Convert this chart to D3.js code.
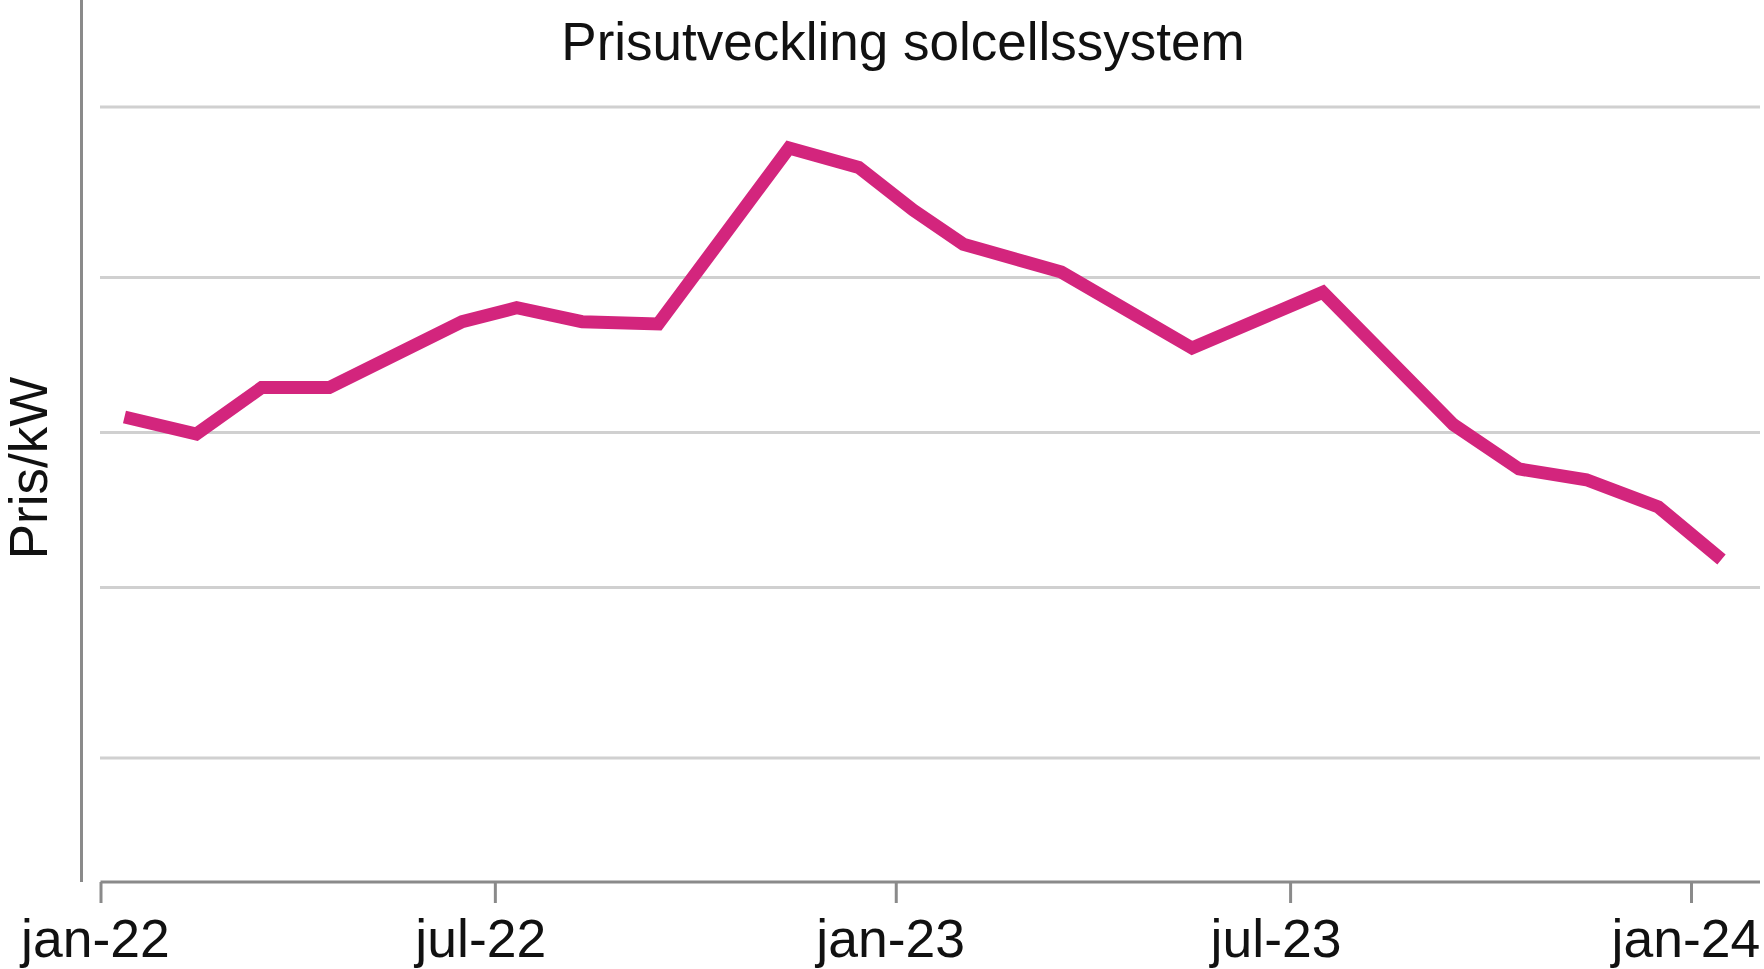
<!DOCTYPE html>
<html>
<head>
<meta charset="utf-8">
<script src="https://cdn.jsdelivr.net/npm/d3@7"></script>
<style>
  html, body { margin: 0; padding: 0; background: #ffffff; }
  svg { display: block; }
</style>
</head>
<body>
<svg id="chart" width="1764" height="969"></svg>
<script>
// ---- data ----
const title = "Prisutveckling solcellssystem";
const yLabel = "Pris/kW";
const dates = ["2022-01-12","2022-02-14","2022-03-16","2022-04-16","2022-06-16","2022-07-11",
               "2022-08-10","2022-09-14","2022-11-13","2022-12-15","2023-01-09","2023-02-01",
               "2023-03-18","2023-05-17","2023-07-16","2023-09-14","2023-10-14","2023-11-14",
               "2023-12-17","2024-01-15"];
const values = [60.0, 57.8, 63.8, 63.8, 72.3, 74.1,
                72.3, 72.0, 94.7, 92.2, 86.7, 82.3,
                78.7, 68.9, 76.1, 59.0, 53.3, 51.9,
                48.4, 41.6];
const gridValues = [16, 38, 58, 78, 100];
const tickDates = ["2022-01-01","2022-07-01","2023-01-01","2023-07-01","2024-01-01"];
const tickLabels = ["jan-22","jul-22","jan-23","jul-23","jan-24"];

// ---- layout ----
const W = 1764, H = 969;
const parse = d3.utcParse("%Y-%m-%d");
const svg = d3.select("#chart");
const font = "'Liberation Sans', Arial, sans-serif";
const axisColor = "#8a8a8a";

const x = d3.scaleUtc()
  .domain([parse(tickDates[0]), parse(tickDates[tickDates.length - 1])])
  .range([100.5, 1691]);
const y = d3.scaleLinear().domain([0, 100]).range([882, 107]);

const data = dates.map((d, i) => ({ date: parse(d), value: values[i] }));

// gridlines
svg.append("g").selectAll("line")
  .data(gridValues)
  .join("line")
  .attr("x1", 100).attr("x2", 1760)
  .attr("y1", d => y(d)).attr("y2", d => y(d))
  .attr("stroke", "#d0d0d0")
  .attr("stroke-width", 3);

// y axis line
svg.append("line")
  .attr("x1", 81.5).attr("x2", 81.5)
  .attr("y1", 0).attr("y2", y(0))
  .attr("stroke", axisColor).attr("stroke-width", 3);

// x axis
const xAxis = d3.axisBottom(x)
  .tickValues(tickDates.map(parse))
  .tickFormat((d, i) => tickLabels[i])
  .tickSizeOuter(0)
  .tickSizeInner(21)
  .tickPadding(0);

const gx = svg.append("g").attr("transform", `translate(0,${y(0)})`).call(xAxis);
gx.select(".domain").remove();
gx.selectAll(".tick line").attr("stroke", axisColor).attr("stroke-width", 3);
gx.selectAll(".tick text")
  .attr("fill", "#111")
  .attr("font-family", font)
  .attr("font-size", 53.5)
  .attr("text-anchor", "start")
  .attr("x", -80)
  .attr("y", 75)
  .attr("dy", 0);
gx.insert("line", ":first-child")
  .attr("x1", x.range()[0]).attr("x2", 1760)
  .attr("y1", 0).attr("y2", 0)
  .attr("stroke", axisColor).attr("stroke-width", 3);

// line
const line = d3.line().x(d => x(d.date)).y(d => y(d.value));
svg.append("path")
  .datum(data)
  .attr("d", line)
  .attr("fill", "none")
  .attr("stroke", "#d3257d")
  .attr("stroke-width", 13)
  .attr("stroke-linejoin", "miter")
  .attr("stroke-linecap", "butt");

// title
svg.append("text")
  .attr("x", 903).attr("y", 60)
  .attr("text-anchor", "middle")
  .attr("font-family", font)
  .attr("font-size", 53)
  .attr("fill", "#111")
  .text(title);

// y label
svg.append("text")
  .attr("transform", "translate(47,468) rotate(-90)")
  .attr("text-anchor", "middle")
  .attr("font-family", font)
  .attr("font-size", 53)
  .attr("fill", "#111")
  .text(yLabel);
</script>
</body>
</html>
